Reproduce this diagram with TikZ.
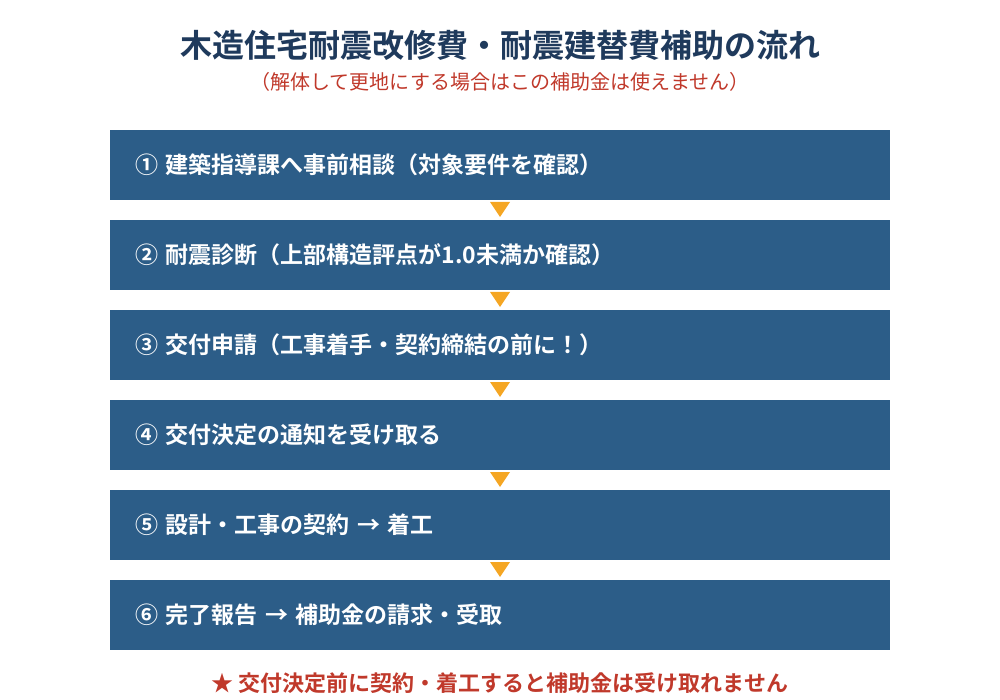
\documentclass[tikz,border=0pt]{standalone}
\usepackage{fontspec}
\setmainfont{Noto Sans CJK JP}[BoldFont={Noto Sans CJK JP Bold}]
\usetikzlibrary{positioning}

\definecolor{titlenavy}{HTML}{1F3A5C}
\definecolor{boxblue}{HTML}{2C5D88}
\definecolor{warnred}{HTML}{C0392B}
\definecolor{triorange}{HTML}{F5A623}

\begin{document}
\begin{tikzpicture}[x=1pt,y=-1pt,node distance=20pt,
	stepbox/.style={fill=boxblue,text=white,font=\fontsize{23}{28}\selectfont\bfseries,
		minimum width=780pt,minimum height=70pt,text width=730pt,inner xsep=25pt,
		inner ysep=0pt,outer sep=0pt,align=left},
	downtri/.style={fill=triorange}]
	\useasboundingbox (0,0) rectangle (1000,700);

	\node[text=titlenavy,font=\fontsize{32}{38}\selectfont\bfseries] (title) at (500,45) {木造住宅耐震改修費・耐震建替費補助の流れ};
	\node[text=warnred,font=\fontsize{20}{24}\selectfont]             (sub)   at (500,82) {（解体して更地にする場合はこの補助金は使えません）};

	\node[stepbox,anchor=north west] (s1) at (110,130)  {① 建築指導課へ事前相談（対象要件を確認）};
	\node[stepbox]                   (s2) [below=of s1] {② 耐震診断（上部構造評点が1.0未満か確認）};
	\node[stepbox]                   (s3) [below=of s2] {③ 交付申請（工事着手・契約締結の前に！）};
	\node[stepbox]                   (s4) [below=of s3] {④ 交付決定の通知を受け取る};
	\node[stepbox]                   (s5) [below=of s4] {⑤ 設計・工事の契約 → 着工};
	\node[stepbox]                   (s6) [below=of s5] {⑥ 完了報告 → 補助金の請求・受取};

	% orange markers between the steps
	\foreach \a in {1,...,5}
		\fill[downtri] ([xshift=-10pt,yshift=-2pt]s\a.south) -- ([xshift=10pt,yshift=-2pt]s\a.south) -- ([yshift=-17pt]s\a.south) -- cycle;

	\node[text=warnred,font=\fontsize{22}{26}\selectfont\bfseries] (note) at (500,683) {★ 交付決定前に契約・着工すると補助金は受け取れません};
\end{tikzpicture}
\end{document}
